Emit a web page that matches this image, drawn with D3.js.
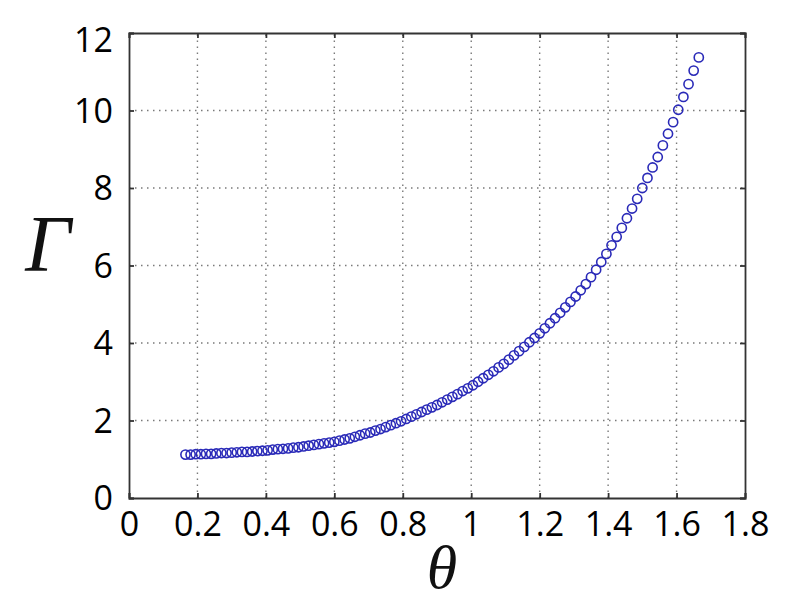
<!DOCTYPE html>
<html>
<head>
    <title>Gamma vs theta</title>
    <style>
        body {
            margin: 0;
            padding: 0;
            background: #fff;
        }
        #chart svg {
            display: block;
        }
    </style>
</head>
<body>
    <div id="chart"></div>

    <script src="https://cdn.jsdelivr.net/npm/d3@7"></script>
    <script>
        // data
        const theta = [
            0.165, 0.180, 0.195, 0.210, 0.225, 0.240, 0.255, 0.270, 0.285, 0.300,
            0.315, 0.330, 0.345, 0.360, 0.375, 0.390, 0.405, 0.420, 0.435, 0.450,
            0.465, 0.480, 0.495, 0.510, 0.525, 0.540, 0.555, 0.570, 0.585, 0.600,
            0.615, 0.630, 0.645, 0.660, 0.675, 0.690, 0.705, 0.720, 0.735, 0.750,
            0.765, 0.780, 0.795, 0.810, 0.825, 0.840, 0.855, 0.870, 0.885, 0.900,
            0.915, 0.930, 0.945, 0.960, 0.975, 0.990, 1.005, 1.020, 1.035, 1.050,
            1.065, 1.080, 1.095, 1.110, 1.125, 1.140, 1.155, 1.170, 1.185, 1.200,
            1.215, 1.230, 1.245, 1.260, 1.275, 1.290, 1.305, 1.320, 1.335, 1.350,
            1.365, 1.380, 1.395, 1.410, 1.425, 1.440, 1.455, 1.470, 1.485, 1.500,
            1.515, 1.530, 1.545, 1.560, 1.575, 1.590, 1.605, 1.620, 1.635, 1.650,
            1.665
        ];
        const gamma = [
            1.12, 1.12, 1.13, 1.13, 1.14, 1.14, 1.15, 1.16, 1.16, 1.17,
            1.18, 1.19, 1.19, 1.20, 1.21, 1.22, 1.23, 1.25, 1.26, 1.27,
            1.28, 1.30, 1.31, 1.33, 1.35, 1.37, 1.39, 1.41, 1.43, 1.45,
            1.48, 1.51, 1.54, 1.58, 1.62, 1.66, 1.69, 1.74, 1.78, 1.83,
            1.88, 1.93, 1.98, 2.04, 2.10, 2.16, 2.22, 2.28, 2.34, 2.40,
            2.47, 2.54, 2.61, 2.68, 2.76, 2.83, 2.91, 3.00, 3.09, 3.18,
            3.27, 3.37, 3.46, 3.57, 3.68, 3.79, 3.90, 4.02, 4.13, 4.25,
            4.38, 4.51, 4.64, 4.78, 4.92, 5.06, 5.20, 5.36, 5.52, 5.70,
            5.89, 6.09, 6.30, 6.52, 6.74, 6.97, 7.22, 7.47, 7.72, 8.00,
            8.26, 8.53, 8.80, 9.10, 9.40, 9.70, 10.02, 10.35, 10.68, 11.03,
            11.37
        ];
        const xTicks = [0, 0.2, 0.4, 0.6, 0.8, 1, 1.2, 1.4, 1.6, 1.8];
        const yTicks = [0, 2, 4, 6, 8, 10, 12];

        const width = 800, height = 613;
        const margin = { top: 33, right: 55, bottom: 115, left: 129 };

        const svg = d3.select('#chart').append('svg')
            .attr('width', width)
            .attr('height', height);

        const x = d3.scaleLinear()
            .domain([0, 1.8])
            .range([margin.left, width - margin.right]);
        const y = d3.scaleLinear()
            .domain([0, 12])
            .range([height - margin.bottom, margin.top]);

        const x0 = x.range()[0], x1 = x.range()[1];
        const y0 = y.range()[0], y1 = y.range()[1];

        // dotted grid
        const grid = svg.append('g')
            .attr('stroke', '#7a7a7a')
            .attr('stroke-width', 1.4)
            .attr('stroke-dasharray', '1.5,4.5');
        grid.selectAll('.gx')
            .data(xTicks.slice(1, -1))
            .enter().append('line')
            .attr('x1', d => x(d)).attr('x2', d => x(d))
            .attr('y1', y0).attr('y2', y1);
        grid.selectAll('.gy')
            .data(yTicks.slice(1, -1))
            .enter().append('line')
            .attr('x1', x0).attr('x2', x1)
            .attr('y1', d => y(d)).attr('y2', d => y(d));

        // axes with inward ticks (all four sides)
        const font = '"Open Sans", "Liberation Sans", Arial, sans-serif';

        const axBottom = svg.append('g')
            .attr('transform', `translate(0,${y0})`)
            .call(d3.axisBottom(x).tickValues(xTicks).tickFormat(d3.format('~g'))
                .tickSize(-5).tickPadding(14));
        const axTop = svg.append('g')
            .attr('transform', `translate(0,${y1})`)
            .call(d3.axisTop(x).tickValues(xTicks).tickFormat('').tickSize(-5));
        const axLeft = svg.append('g')
            .attr('transform', `translate(${x0},0)`)
            .call(d3.axisLeft(y).tickValues(yTicks).tickSize(-5).tickPadding(16));
        const axRight = svg.append('g')
            .attr('transform', `translate(${x1},0)`)
            .call(d3.axisRight(y).tickValues(yTicks).tickFormat('').tickSize(-5));

        [axBottom, axTop, axLeft, axRight].forEach(g => {
            g.select('.domain').attr('stroke', '#333').attr('stroke-width', 1.8);
            g.selectAll('.tick line').attr('stroke', '#333').attr('stroke-width', 1.8);
            g.selectAll('.tick text')
                .attr('font-family', font)
                .attr('font-size', 34)
                .attr('fill', '#000');
        });
        axBottom.selectAll('.tick text').attr('dy', '0.71em');
        // top label sits a bit lower than its tick, as in the picture
        axLeft.selectAll('.tick text')
            .attr('dy', '0.35em')
            .attr('y', d => d === 12 ? 7 : 0);

        // markers
        const points = theta.map((t, i) => ({ t: t, g: gamma[i] }));
        svg.append('g')
            .selectAll('circle')
            .data(points)
            .enter().append('circle')
            .attr('cx', d => x(d.t))
            .attr('cy', d => y(d.g))
            .attr('r', 4.6)
            .attr('fill', 'none')
            .attr('stroke', '#2a2ab8')
            .attr('stroke-width', 1.6);

        // axis titles
        svg.append('text')
            .attr('x', (x0 + x1) / 2 + 5)
            .attr('y', 588)
            .attr('text-anchor', 'middle')
            .attr('font-family', '"Liberation Serif", "DejaVu Serif", serif')
            .attr('font-style', 'italic')
            .attr('font-size', 62)
            .attr('fill', '#111')
            .text('θ');

        svg.append('text')
            .attr('x', 48)
            .attr('y', 271)
            .attr('text-anchor', 'middle')
            .attr('font-family', '"Liberation Serif", "DejaVu Serif", serif')
            .attr('font-style', 'italic')
            .attr('font-size', 80)
            .attr('fill', '#111')
            .text('Γ');
    </script>
</body>
</html>
